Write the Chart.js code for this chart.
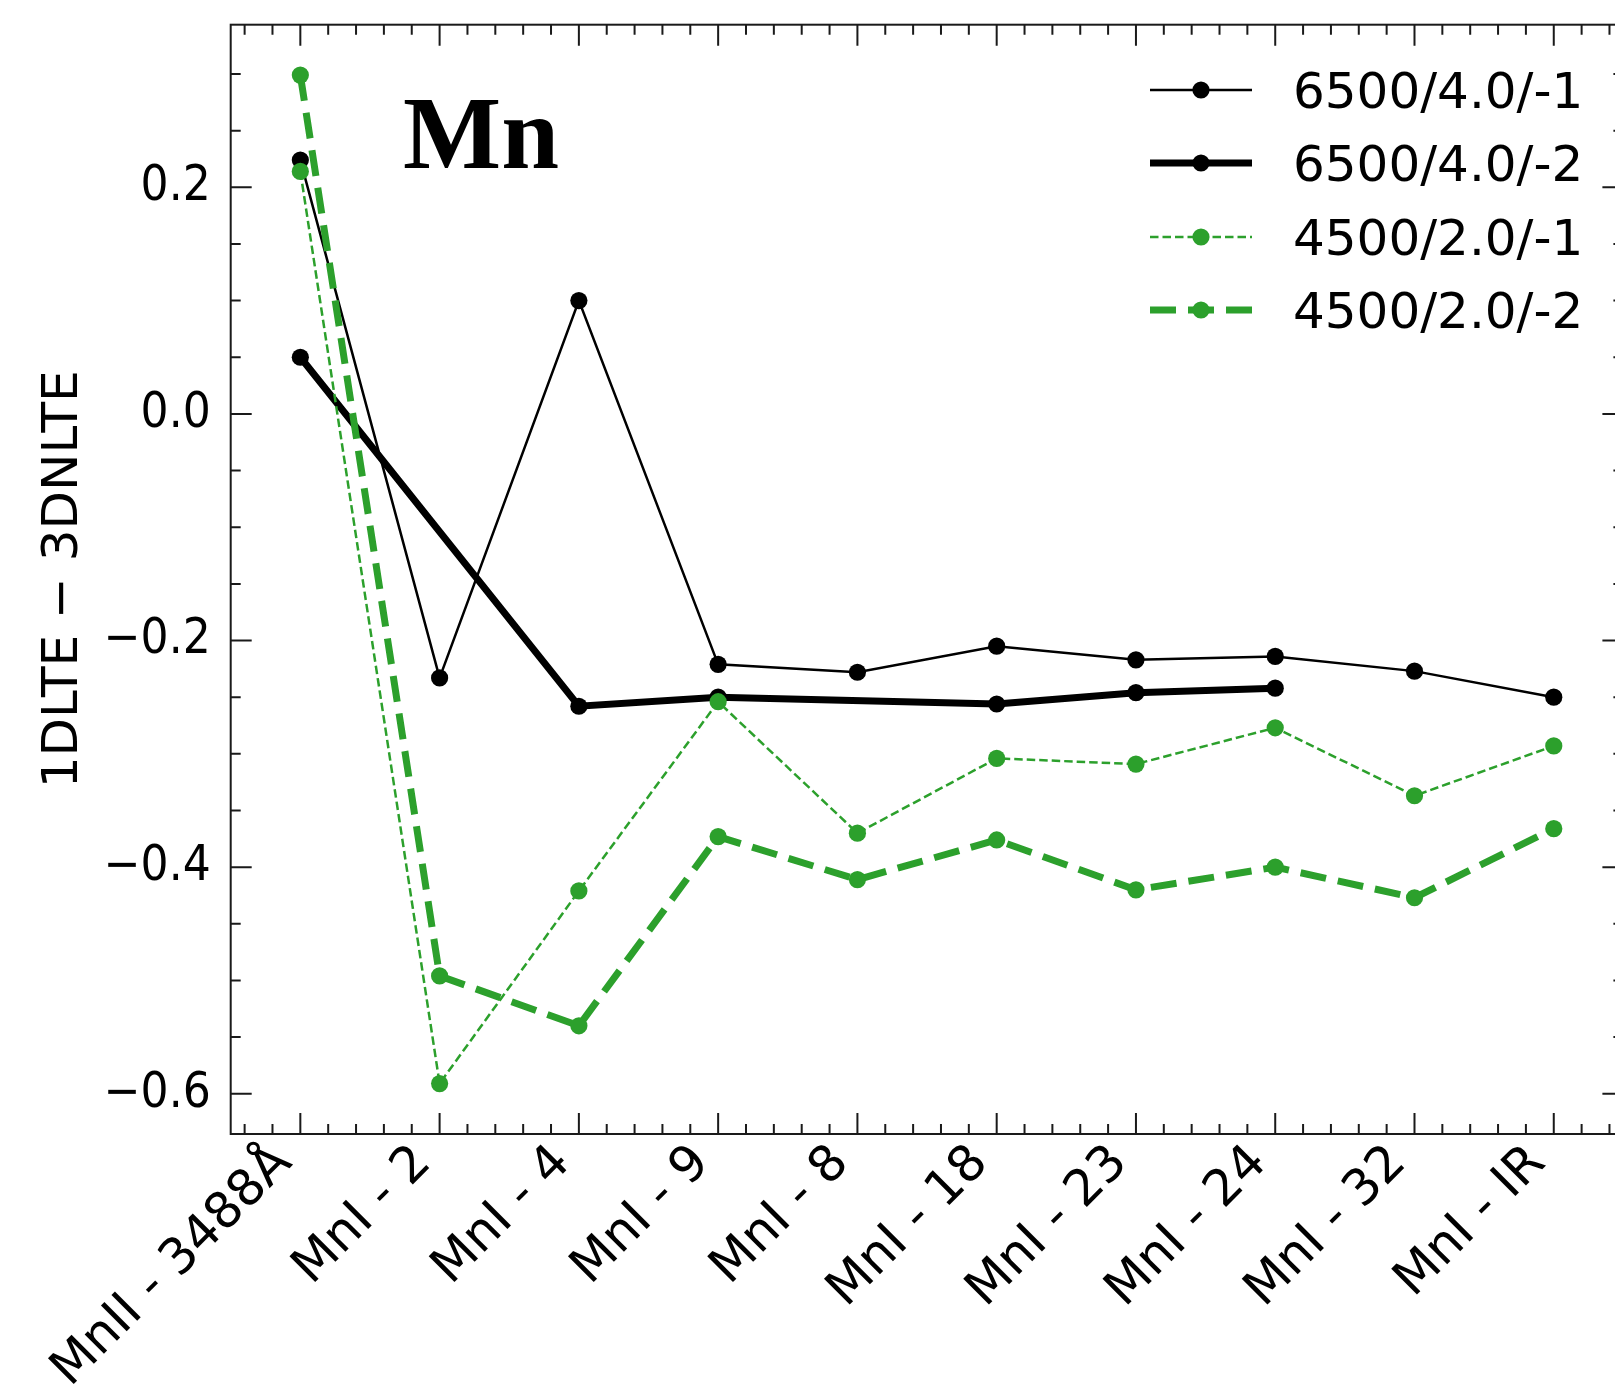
<!DOCTYPE html>
<html>
<head>
<meta charset="utf-8">
<title>Mn 1D LTE - 3D NLTE</title>
<script src="https://cdn.jsdelivr.net/npm/chart.js@4.4.1/dist/chart.umd.min.js"></script>
<style>
html,body{margin:0;padding:0;background:#fff;overflow:hidden;}
canvas{display:block;}
</style>
</head>
<body>
<canvas id="mn_chart" width="1632" height="1389"></canvas>
<script>
// spectral lines / multiplets on the x axis
const lineLabels=['MnII - 3488Å','MnI - 2','MnI - 4','MnI - 9','MnI - 8','MnI - 18','MnI - 23','MnI - 24','MnI - 32','MnI - IR'];

// model names: Teff / logg / [Fe/H]
const modelNames=['6500/4.0/-1','6500/4.0/-2','4500/2.0/-1','4500/2.0/-2'];

// 1DLTE - 3DNLTE corrections, null = no line for that model
const dwarf_m1=[0.224,-0.233,0.100,-0.221,-0.228,-0.205,-0.217,-0.214,-0.227,-0.250];
const dwarf_m2=[0.050,null,-0.258,-0.250,null,-0.256,-0.246,-0.242,null,null];
const giant_m1=[0.214,-0.591,-0.421,-0.254,-0.370,-0.304,-0.309,-0.277,-0.337,-0.293];
const giant_m2=[0.299,-0.496,-0.540,-0.373,-0.411,-0.376,-0.420,-0.400,-0.427,-0.366];

const yTicks=[-0.6,-0.4,-0.2,0.0,0.2];

const green='#2ca02c';
const tickFont={family:'DejaVu Sans',size:50};

function toPoints(arr){
	return arr.map((v,i)=>({x:i,y:v}));
}

function fmtY(v){
	let s=Math.abs(v)<1e-9 ? '0.0' : v.toFixed(1);
	return s.replace('-','\u2212');
}

// frame, inward ticks on all four sides, the legend and the element name
const decorations={
	id:'decorations',
	afterDraw(chart){
		const {ctx,chartArea:a,scales:{x,y}}=chart;
		ctx.save();
		ctx.strokeStyle='#1a1a1a';
		ctx.lineWidth=2;
		ctx.setLineDash([]);
		ctx.beginPath();
		for(let k=-3;k<=48;k++){
			let v=k*0.2;
			if(v<x.min||v>x.max) continue;
			let px=x.getPixelForValue(v);
			let len=(k%5===0)?21:10;
			ctx.moveTo(px,a.bottom); ctx.lineTo(px,a.bottom-len);
			ctx.moveTo(px,a.top); ctx.lineTo(px,a.top+len);
		}
		for(let k=-13;k<=7;k++){
			let v=k*0.05;
			if(v<y.min||v>y.max) continue;
			let py=y.getPixelForValue(v);
			let len=(k%4===0)?21:10;
			ctx.moveTo(a.left,py); ctx.lineTo(a.left+len,py);
			ctx.moveTo(a.right,py); ctx.lineTo(a.right-len,py);
		}
		ctx.stroke();
		ctx.strokeRect(a.left,a.top,a.right-a.left,a.bottom-a.top);

		// legend
		const rowY=[90,163,237,310];
		chart.data.datasets.forEach((ds,i)=>{
			let ly=rowY[i];
			ctx.beginPath();
			ctx.setLineDash(ds.borderDash||[]);
			ctx.lineWidth=ds.borderWidth;
			ctx.strokeStyle=ds.borderColor;
			ctx.moveTo(1150,ly); ctx.lineTo(1252,ly);
			ctx.stroke();
			ctx.setLineDash([]);
			ctx.beginPath();
			ctx.fillStyle=ds.pointBackgroundColor;
			ctx.arc(1201,ly,ds.pointRadius,0,Math.PI*2);
			ctx.fill();
			ctx.fillStyle='#000';
			ctx.font='50px "DejaVu Sans"';
			ctx.textAlign='left';
			ctx.textBaseline='alphabetic';
			ctx.fillText(ds.label,1293,ly+18);
		});

		ctx.font='bold 104px "Liberation Serif"';
		ctx.fillStyle='#000';
		ctx.textAlign='left';
		ctx.textBaseline='alphabetic';
		ctx.fillText('Mn',403,168);
		ctx.restore();
	}
};

function makeSet(label,data,color,width,dash){
	return {
		label:label,
		data:toPoints(data),
		borderColor:color,
		backgroundColor:color,
		pointBackgroundColor:color,
		pointBorderWidth:0,
		pointRadius:8.6,
		borderWidth:width,
		borderDash:dash,
		spanGaps:true,
		tension:0,
		fill:false
	};
}

const datasets=[
	makeSet(modelNames[0],dwarf_m1,'#000',2.5,[]),
	makeSet(modelNames[1],dwarf_m2,'#000',7,[]),
	makeSet(modelNames[2],giant_m1,green,2.5,[8.5,4]),
	makeSet(modelNames[3],giant_m2,green,7,[26,12])
];
// later series drawn on top
datasets.forEach((d,i)=>{d.order=datasets.length-i;});

const ctx=document.getElementById('mn_chart').getContext('2d');
new Chart(ctx,{
	type:'line',
	data:{datasets:datasets},
	options:{
		responsive:false,
		animation:false,
		devicePixelRatio:1,
		layout:{padding:{left:0,right:4.8,top:24.7,bottom:0}},
		plugins:{legend:{display:false},tooltip:{enabled:false}},
		scales:{
			x:{
				type:'linear',
				min:-0.5,max:9.5,
				grid:{display:false,drawTicks:false},
				border:{display:false},
				afterBuildTicks:s=>{s.ticks=lineLabels.map((_,i)=>({value:i}));},
				afterFit:s=>{s.height=255;s.paddingLeft=0;s.paddingRight=0;},
				ticks:{
					autoSkip:false,minRotation:45,maxRotation:45,
					padding:0,labelOffset:-16,
					color:'#000',font:tickFont,
					callback:v=>lineLabels[v]
				}
			},
			y:{
				min:-0.6355,max:0.3435,
				grid:{display:false,drawTicks:false},
				border:{display:false},
				afterBuildTicks:s=>{s.ticks=yTicks.map(v=>({value:v}));},
				afterFit:s=>{s.width=230.7;s.paddingTop=0;s.paddingBottom=0;},
				ticks:{padding:20,color:'#000',font:{family:'DejaVu Sans Condensed, DejaVu Sans',size:49},callback:v=>fmtY(v)},
				title:{
					display:true,
					text:'1DLTE \u2212 3DNLTE',
					color:'#000',
					font:{family:'DejaVu Sans',size:50},
					padding:{top:34,bottom:0}
				}
			}
		}
	},
	plugins:[decorations]
});
</script>
</body>
</html>
